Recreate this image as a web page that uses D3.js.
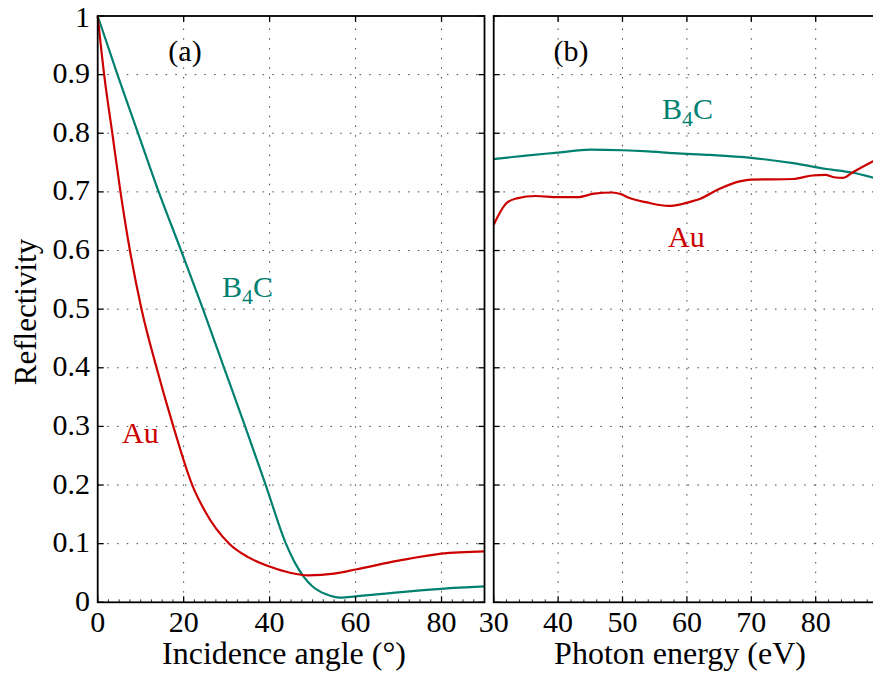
<!DOCTYPE html>
<html>
<head>
<meta charset="utf-8">
<script src="https://cdn.jsdelivr.net/npm/d3@7"></script>
<style>
  html, body { margin: 0; padding: 0; background: #fff; }
  svg { display: block; }
</style>
</head>
<body>
<svg id="chart" width="873" height="675"></svg>
<script>
// ---------- DATA ----------
// Panel (a): reflectivity vs incidence angle
const angleB4C = [0, 4.6, 9.4, 14.2, 19.4, 24.5, 29.4, 34.3, 39.1, 43.8, 46, 48, 50, 53, 56.5, 60, 70, 80, 90];
const reflB4C_a = [1.0, 0.9, 0.8, 0.7, 0.6, 0.5, 0.4, 0.3, 0.2, 0.1, 0.066, 0.043, 0.027, 0.014, 0.008, 0.01, 0.017, 0.023, 0.027];
const angleAu = [0, 1.5, 3.4, 5.3, 7.5, 10.2, 13.7, 17.6, 22, 25, 30.6, 35, 40, 45, 49, 55, 60, 70, 80, 90];
const reflAu_a = [1.0, 0.9, 0.8, 0.7, 0.6, 0.5, 0.4, 0.3, 0.2, 0.155, 0.1, 0.077, 0.061, 0.05, 0.046, 0.049, 0.056, 0.071, 0.083, 0.087];

// Panel (b): reflectivity vs photon energy
const energyB4C = [30, 35, 40, 45, 50, 54, 58, 63.6, 70, 76.5, 81.7, 85.6, 89, 90];
const reflB4C_b = [0.756, 0.762, 0.767, 0.772, 0.771, 0.769, 0.766, 0.763, 0.758, 0.749, 0.739, 0.733, 0.724, 0.721];
const energyAu = [30, 32, 33.6, 36.5, 40, 43, 45.6, 48.4, 49.8, 51, 53.8, 57.2, 59.1, 60.5, 62, 65, 68.2, 70, 76.5, 79.5, 81.5, 82.8, 84.3, 85.7, 88.7, 90];
const reflAu_b = [0.644, 0.681, 0.689, 0.693, 0.691, 0.691, 0.697, 0.699, 0.696, 0.690, 0.682, 0.676, 0.679, 0.683, 0.688, 0.705, 0.718, 0.721, 0.722, 0.728, 0.729, 0.725, 0.724, 0.733, 0.751, 0.758];

// Tick values / labels
const yTicks = [0, 0.1, 0.2, 0.3, 0.4, 0.5, 0.6, 0.7, 0.8, 0.9, 1];
const yTickLabels = ["0", "0.1", "0.2", "0.3", "0.4", "0.5", "0.6", "0.7", "0.8", "0.9", "1"];
const xTicksA = [0, 20, 40, 60, 80];
const xTicksB = [30, 40, 50, 60, 70, 80];

const colB4C = "#008070";
const colAu = "#cc0000";
const FONT = "Liberation Serif";

// ---------- LAYOUT ----------
const svg = d3.select("#chart");
const y = d3.scaleLinear().domain([0, 1]).range([602.3, 16]);
const xA = d3.scaleLinear().domain([0, 90]).range([97.7, 484.5]);
const xB = d3.scaleLinear().domain([30, 90]).range([493.7, 880.1]);

function panel(x, xTicks) {
  const g = svg.append("g");
  const [x0, x1] = x.range();
  const [yb, yt] = y.range();
  g.selectAll(".vg").data(xTicks.filter(v => v > x.domain()[0] && v < x.domain()[1])).join("line")
    .attr("x1", d => x(d)).attr("x2", d => x(d)).attr("y1", yb).attr("y2", yt)
    .attr("stroke", "#444").attr("stroke-width", 1).attr("stroke-dasharray", "1.5,8.2");
  g.selectAll(".hg").data(yTicks.filter(v => v > 0 && v < 1)).join("line")
    .attr("x1", x0).attr("x2", x1).attr("y1", d => y(d)).attr("y2", d => y(d))
    .attr("stroke", "#444").attr("stroke-width", 1).attr("stroke-dasharray", "1.5,8.2");
  return g;
}

function frame(g, x, xTicks, minorStep) {
  const [x0, x1] = x.range();
  const [yb, yt] = y.range();
  const tl = 6, ml = 3;
  xTicks.forEach(v => {
    g.append("line").attr("x1", x(v)).attr("x2", x(v)).attr("y1", yb).attr("y2", yb - tl).attr("stroke", "#000").attr("stroke-width", 1.3);
    g.append("line").attr("x1", x(v)).attr("x2", x(v)).attr("y1", yt).attr("y2", yt + tl).attr("stroke", "#000").attr("stroke-width", 1.3);
  });
  const minors = d3.range(x.domain()[0], x.domain()[1] + 1e-9, minorStep).filter(v => !xTicks.includes(v));
  minors.forEach(v => {
    g.append("line").attr("x1", x(v)).attr("x2", x(v)).attr("y1", yb).attr("y2", yb - ml).attr("stroke", "#000").attr("stroke-width", 0.8);
  });
  yTicks.forEach(v => {
    g.append("line").attr("x1", x0).attr("x2", x0 + tl).attr("y1", y(v)).attr("y2", y(v)).attr("stroke", "#000").attr("stroke-width", 1.3);
    g.append("line").attr("x1", x1).attr("x2", x1 - tl).attr("y1", y(v)).attr("y2", y(v)).attr("stroke", "#000").attr("stroke-width", 1.3);
  });
  g.append("rect").attr("x", x0).attr("y", yt).attr("width", x1 - x0).attr("height", yb - yt)
    .attr("fill", "none").attr("stroke", "#000").attr("stroke-width", 1.8);
}

function curve(g, x, xs, ys, color) {
  const pts = xs.map((v, i) => [v, ys[i]]);
  const line = d3.line().x(d => x(d[0])).y(d => y(d[1])).curve(d3.curveMonotoneX);
  g.append("path").attr("d", line(pts)).attr("fill", "none").attr("stroke", color)
    .attr("stroke-width", 2.2).attr("stroke-linejoin", "round");
}

const gA = panel(xA, xTicksA);
curve(gA, xA, angleB4C, reflB4C_a, colB4C);
curve(gA, xA, angleAu, reflAu_a, colAu);
frame(gA, xA, xTicksA, 2.5);

const gB = panel(xB, xTicksB);
curve(gB, xB, energyB4C, reflB4C_b, colB4C);
curve(gB, xB, energyAu, reflAu_b, colAu);
frame(gB, xB, xTicksB, 2);

const fs = 30;
function txt(xp, yp, s, size, anchor, color) {
  return svg.append("text").attr("x", xp).attr("y", yp).attr("font-family", FONT)
    .attr("font-size", size).attr("text-anchor", anchor || "start").attr("fill", color || "#000").text(s);
}
yTicks.forEach((d, i) => txt(90, y(d) + (d === 1 ? 11 : 8.5), yTickLabels[i], fs, "end"));
xTicksA.forEach(d => txt(xA(d), 632, String(d), fs, "middle"));
xTicksB.forEach(d => txt(xB(d), 632, String(d), fs, "middle"));

txt(284, 664, "Incidence angle (°)", 32, "middle");
txt(680, 664, "Photon energy (eV)", 32, "middle");
svg.append("text").attr("transform", "translate(36,312) rotate(-90)").attr("text-anchor", "middle")
  .attr("font-family", FONT).attr("font-size", 31).text("Reflectivity");

txt(185, 61, "(a)", fs, "middle");
txt(571, 61, "(b)", fs, "middle");

function b4c(xp, yp) {
  const t = svg.append("text").attr("x", xp).attr("y", yp).attr("font-family", FONT)
    .attr("font-size", fs).attr("fill", colB4C);
  t.append("tspan").text("B");
  t.append("tspan").attr("dy", 7).attr("font-size", 22).text("4");
  t.append("tspan").attr("dy", -7).text("C");
}
b4c(222, 297);
b4c(662, 119);
txt(122, 443, "Au", fs, "start", colAu);
txt(668, 247, "Au", fs, "start", colAu);
</script>
</body>
</html>
